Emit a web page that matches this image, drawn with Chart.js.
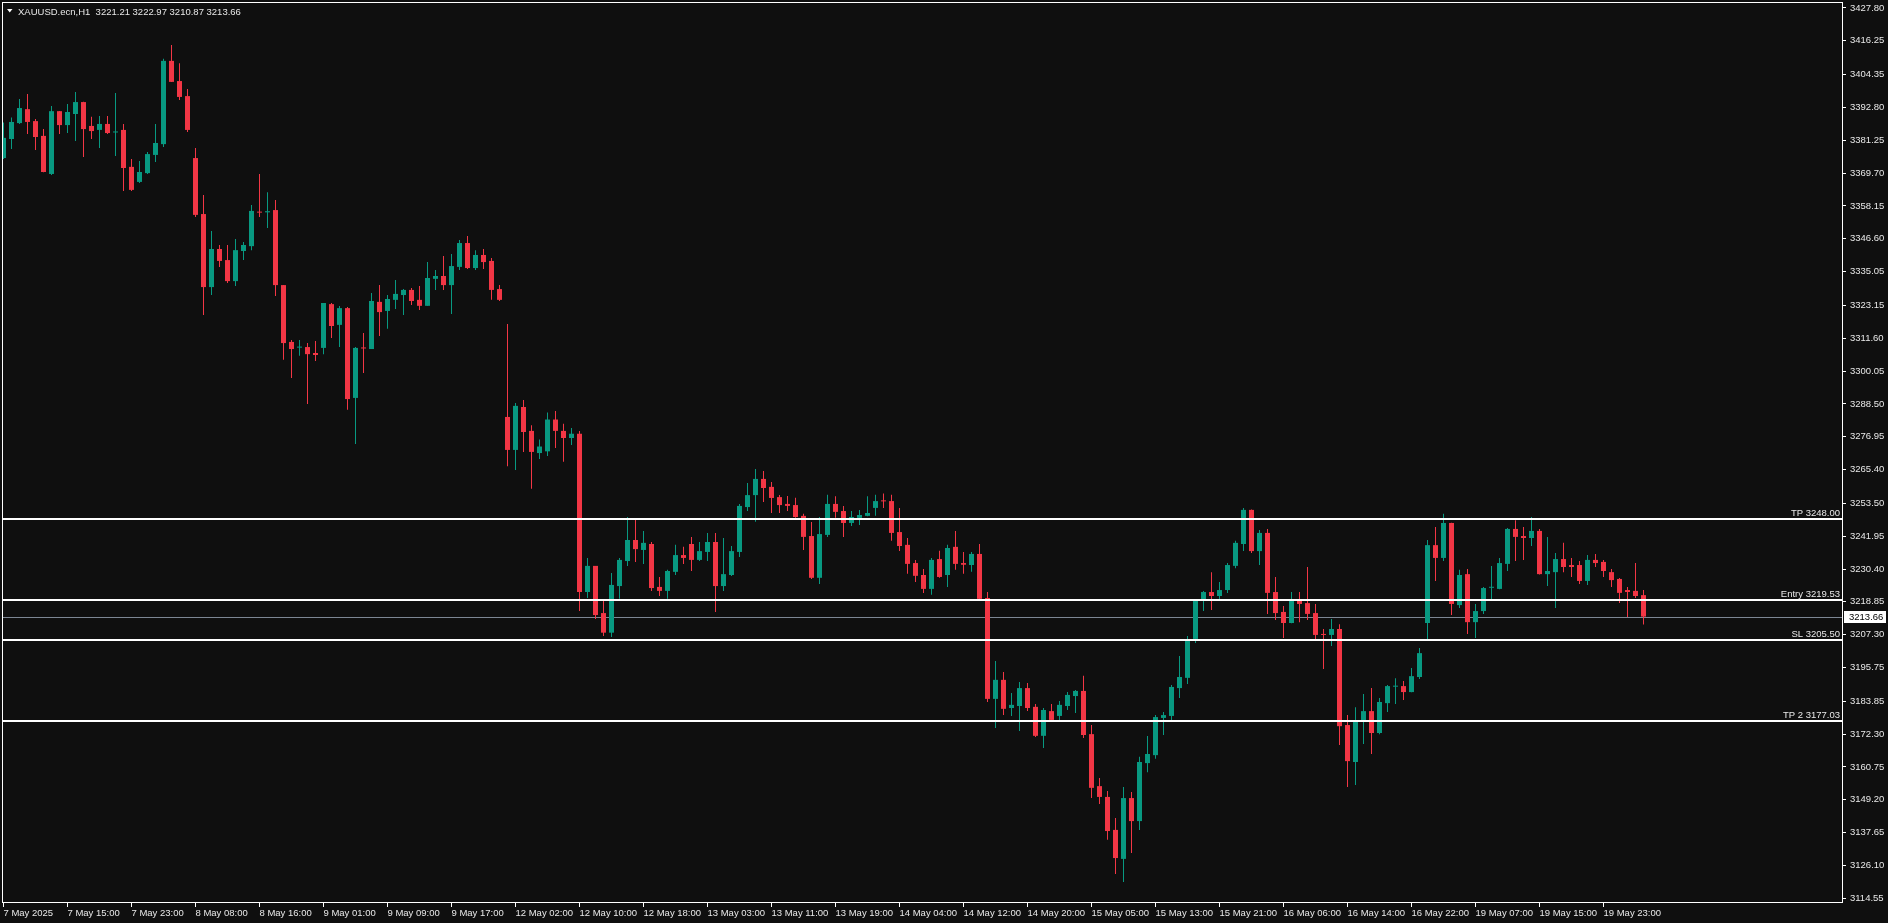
<!DOCTYPE html>
<html><head><meta charset="utf-8">
<script src="https://cdn.jsdelivr.net/npm/chart.js@4.4.1/dist/chart.umd.min.js"></script>
<style>html,body{margin:0;padding:0;background:#0f0f0f;overflow:hidden}canvas{display:block}</style>
</head><body>
<canvas id="c" width="1888" height="923"></canvas>
<script>
// ---- DATA (XAUUSD H1 candles) ----
const openP = [3375.0,3381.7,3387.3,3392.2,3388.0,3382.8,3369.4,3391.5,3386.6,3390.5,3394.7,3386.3,3384.9,3387.0,3384.0,3384.9,3371.9,3366.6,3369.7,3376.1,3379.9,3409.2,3402.1,3396.8,3375.0,3355.3,3329.6,3343.0,3339.1,3331.7,3342.3,3344.0,3356.0,3355.9,3356.7,3330.3,3310.3,3308.3,3308.5,3306.4,3308.2,3323.6,3316.3,3322.2,3290.6,3308.2,3307.8,3324.4,3321.2,3325.1,3326.8,3328.6,3325.1,3323.0,3332.5,3333.5,3330.3,3336.7,3345.1,3336.3,3340.9,3338.8,3328.9,3283.9,3272.3,3287.4,3279.0,3271.2,3271.8,3283.0,3279.0,3276.5,3278.0,3222.3,3231.5,3214.9,3208.0,3224.4,3233.2,3240.6,3237.1,3239.2,3224.1,3222.7,3229.4,3235.3,3239.2,3233.6,3236.4,3239.9,3224.4,3228.3,3236.4,3252.2,3256.4,3262.1,3259.3,3255.7,3253.3,3252.9,3249.1,3242.0,3227.3,3242.4,3253.3,3250.8,3246.6,3248.4,3249.1,3251.9,3254.5,3254.3,3243.4,3238.9,3232.5,3228.3,3223.4,3233.9,3228.3,3238.2,3232.5,3231.8,3235.7,3220.2,3184.7,3191.4,3181.5,3182.2,3188.5,3181.9,3171.7,3180.4,3178.7,3182.2,3185.7,3187.5,3172.3,3154.0,3150.2,3138.6,3128.4,3149.8,3141.7,3162.1,3164.9,3178.0,3178.7,3188.5,3192.1,3205.8,3219.85,3222.3,3220.9,3223.0,3231.5,3239.2,3251.2,3236.7,3243.1,3222.3,3215.3,3211.4,3219.5,3218.4,3214.9,3207.5,3207.2,3209.3,3175.5,3162.5,3176.9,3180.4,3172.7,3183.2,3189.0,3189.2,3187.1,3192.4,3211.4,3238.8,3234.3,3246.6,3217.7,3228.6,3211.7,3215.6,3223.8,3223.4,3232.2,3244.5,3242.0,3241.3,3243.8,3228.6,3229.3,3233.9,3231.8,3231.8,3226.2,3233.6,3232.9,3229.3,3226.9,3223.0,3222.7,3221.21];
const highP = [3387.5,3389.3,3395.8,3397.5,3388.7,3385.2,3393.3,3391.6,3394.0,3398.2,3394.8,3389.5,3389.8,3389.8,3397.9,3387.0,3374.7,3374.0,3377.1,3387.0,3409.9,3414.8,3408.4,3399.3,3378.5,3362.0,3349.3,3344.4,3344.4,3346.5,3345.5,3358.5,3369.4,3363.0,3360.2,3330.3,3311.0,3311.0,3309.9,3310.6,3324.0,3324.0,3322.9,3322.6,3308.5,3313.4,3327.5,3330.3,3326.8,3332.1,3328.9,3329.3,3330.0,3338.4,3335.6,3340.5,3341.2,3346.2,3347.6,3342.6,3343.0,3339.8,3330.3,3316.6,3288.8,3289.9,3281.0,3276.0,3285.5,3286.0,3281.5,3280.0,3279.0,3234.3,3231.5,3219.2,3229.0,3234.3,3248.7,3247.7,3243.8,3239.9,3227.6,3230.1,3238.9,3238.2,3241.7,3239.9,3243.1,3243.1,3241.3,3238.5,3253.3,3260.7,3265.6,3264.9,3261.0,3256.4,3256.1,3255.5,3249.8,3246.9,3248.7,3256.5,3256.0,3252.6,3250.8,3251.2,3256.0,3256.5,3257.0,3256.5,3251.9,3241.3,3233.6,3230.4,3234.3,3236.8,3238.9,3243.8,3236.4,3236.4,3239.2,3222.3,3198.0,3194.2,3186.8,3190.6,3190.3,3182.9,3181.5,3182.9,3184.0,3187.1,3187.8,3192.8,3175.5,3156.9,3152.3,3142.8,3153.7,3151.9,3164.3,3171.6,3179.0,3180.1,3189.6,3199.8,3206.8,3219.5,3222.7,3229.3,3225.8,3232.5,3240.3,3251.9,3251.3,3244.1,3244.5,3227.6,3217.4,3222.3,3222.3,3231.1,3218.1,3209.3,3212.8,3211.0,3179.0,3181.8,3186.4,3188.5,3185.0,3189.6,3192.0,3191.0,3195.6,3202.6,3240.6,3245.2,3249.8,3246.7,3230.1,3230.4,3218.1,3224.1,3231.5,3234.3,3244.8,3247.6,3245.2,3248.7,3244.5,3241.7,3236.0,3239.6,3234.3,3233.2,3235.3,3235.7,3233.6,3230.4,3227.2,3224.1,3232.5,3222.97];
const lowP = [3374.7,3378.2,3387.0,3383.5,3377.8,3370.0,3369.0,3383.5,3383.8,3381.0,3375.4,3381.7,3378.5,3383.5,3375.7,3363.4,3363.4,3366.2,3369.4,3373.6,3378.9,3401.8,3395.4,3384.2,3354.3,3319.8,3326.8,3336.7,3331.0,3330.0,3339.1,3342.6,3354.3,3350.4,3326.5,3304.0,3297.6,3305.4,3288.5,3303.6,3306.0,3311.7,3308.5,3286.4,3274.4,3299.4,3307.8,3312.4,3314.9,3321.9,3319.8,3323.3,3321.5,3323.0,3328.6,3328.6,3320.1,3335.6,3336.0,3335.6,3336.0,3325.1,3324.7,3266.6,3265.2,3271.6,3258.6,3269.1,3270.2,3273.0,3268.1,3274.0,3215.6,3220.2,3212.8,3206.8,3206.5,3219.9,3231.5,3232.9,3232.2,3222.7,3220.9,3219.9,3228.3,3232.2,3229.7,3233.2,3233.2,3215.3,3222.7,3227.9,3234.6,3250.8,3247.0,3254.0,3250.1,3250.1,3250.8,3248.4,3237.1,3226.9,3225.1,3241.7,3248.4,3241.7,3245.5,3245.9,3249.0,3249.1,3251.9,3240.3,3236.7,3228.7,3225.8,3222.0,3221.3,3227.3,3224.1,3230.1,3228.7,3229.4,3219.8,3183.6,3174.5,3179.0,3178.7,3173.4,3180.4,3171.3,3167.4,3177.2,3177.3,3180.8,3179.7,3170.9,3149.8,3147.7,3135.1,3123.1,3120.3,3130.5,3138.6,3158.9,3163.6,3172.0,3177.3,3185.0,3189.9,3204.4,3215.6,3216.0,3219.85,3222.0,3230.7,3236.7,3236.0,3231.8,3214.6,3212.5,3206.1,3211.3,3211.7,3212.5,3205.8,3195.2,3203.3,3168.5,3153.7,3154.4,3168.8,3165.3,3172.3,3180.1,3182.9,3184.3,3187.0,3191.7,3205.8,3226.2,3233.2,3214.2,3216.7,3207.5,3206.1,3214.6,3219.85,3223.3,3229.7,3233.2,3233.6,3238.5,3228.5,3224.4,3216.7,3229.3,3227.6,3225.1,3224.8,3231.1,3227.6,3224.1,3218.4,3213.5,3220.2,3210.87];
const closeP = [3382.1,3387.7,3392.6,3387.7,3382.4,3370.1,3391.5,3386.6,3391.2,3394.7,3385.2,3384.5,3387.0,3383.8,3384.3,3371.5,3363.8,3370.1,3376.4,3380.3,3409.2,3401.8,3396.5,3384.9,3355.0,3329.6,3343.0,3338.8,3331.7,3342.6,3344.4,3356.4,3355.8,3356.3,3330.3,3309.9,3307.8,3308.5,3306.0,3305.7,3324.0,3315.9,3322.2,3290.2,3308.2,3308.0,3324.7,3320.8,3325.4,3327.2,3328.6,3324.7,3323.0,3332.8,3333.5,3330.3,3337.0,3345.1,3336.3,3340.9,3338.4,3328.6,3325.1,3272.3,3287.8,3278.6,3271.6,3273.5,3283.0,3279.0,3276.5,3278.0,3222.3,3231.5,3214.2,3208.0,3224.8,3233.6,3240.6,3237.4,3239.6,3223.7,3222.7,3229.7,3235.3,3234.3,3233.6,3236.7,3239.9,3224.4,3228.6,3236.7,3252.6,3256.4,3262.1,3258.9,3255.4,3252.9,3252.6,3248.7,3241.7,3227.3,3242.7,3253.3,3250.5,3246.6,3248.7,3249.4,3250.1,3254.3,3254.2,3243.1,3238.5,3232.2,3228.0,3223.4,3233.6,3227.6,3237.8,3232.2,3231.9,3235.7,3219.9,3184.7,3191.4,3181.2,3182.6,3188.5,3181.5,3171.7,3180.8,3177.3,3182.6,3186.1,3187.5,3172.0,3153.4,3150.2,3138.2,3128.7,3149.8,3141.7,3162.5,3165.3,3178.3,3179.0,3188.9,3192.4,3205.1,3219.2,3222.3,3220.9,3223.0,3231.8,3239.6,3251.2,3236.7,3243.1,3222.0,3214.9,3211.4,3219.5,3218.1,3214.6,3207.2,3207.2,3209.3,3175.1,3162.8,3176.9,3180.4,3172.7,3183.6,3189.2,3189.2,3187.1,3192.7,3200.8,3238.8,3234.3,3246.6,3218.1,3228.3,3211.7,3215.6,3223.7,3224.1,3232.5,3244.5,3241.7,3241.3,3243.8,3228.6,3229.7,3233.9,3231.1,3231.1,3226.2,3233.6,3232.5,3229.7,3226.5,3222.0,3222.3,3220.9,3213.66];
const xTickLabels = ["7 May 2025","7 May 15:00","7 May 23:00","8 May 08:00","8 May 16:00","9 May 01:00","9 May 09:00","9 May 17:00","12 May 02:00","12 May 10:00","12 May 18:00","13 May 03:00","13 May 11:00","13 May 19:00","14 May 04:00","14 May 12:00","14 May 20:00","15 May 05:00","15 May 13:00","15 May 21:00","16 May 06:00","16 May 14:00","16 May 22:00","19 May 07:00","19 May 15:00","19 May 23:00"];
const yTickValues = [3427.80,3416.25,3404.35,3392.80,3381.25,3369.70,3358.15,3346.60,3335.05,3323.15,3311.60,3300.05,3288.50,3276.95,3265.40,3253.50,3241.95,3230.40,3218.85,3207.30,3195.75,3183.85,3172.30,3160.75,3149.20,3137.65,3126.10,3114.55];
const levelValues = [3248.00, 3219.53, 3205.50, 3177.03];
const levelNames = ["TP", "Entry", "SL", "TP 2"];
const lastPrice = 3213.66;
const symbolTitle = "XAUUSD.ecn,H1";
const lastOHLC = [3221.21, 3222.97, 3210.87, 3213.66];

// ---- chart ----
const UP = '#089981', DOWN = '#f23645';
const FONT = '"Liberation Sans", Arial, sans-serif';
const idx = openP.map((_, i) => i);
const colors = idx.map(i => closeP[i] >= openP[i] ? UP : DOWN);
const wickData = idx.map(i => ({x: i, y: [lowP[i], highP[i]]}));
const bodyData = idx.map(i => ({x: i, y: [openP[i], closeP[i]]}));

const overlay = {
  id: 'overlay',
  beforeDatasetsDraw(chart) {
    const {ctx, chartArea: a, scales: {y}} = chart;
    const py = Math.round(y.getPixelForValue(lastPrice)) + 0.5;
    ctx.save();
    ctx.strokeStyle = '#7d8794'; ctx.lineWidth = 1;
    ctx.beginPath(); ctx.moveTo(a.left, py); ctx.lineTo(a.right, py); ctx.stroke();
    ctx.restore();
  },
  afterDatasetsDraw(chart) {
    const {ctx, chartArea: a, scales: {y}} = chart;
    ctx.save();
    ctx.font = '9.5px ' + FONT;
    levelValues.forEach((v, k) => {
      const py = Math.round(y.getPixelForValue(v));
      ctx.fillStyle = '#ffffff';
      ctx.fillRect(a.left, py - 1, a.right - a.left, 2);
      ctx.fillStyle = '#e8e8e8';
      ctx.textAlign = 'right'; ctx.textBaseline = 'alphabetic';
      ctx.fillText(levelNames[k] + ' ' + v.toFixed(2), a.right - 2, py - 3);
    });
    // frame
    ctx.strokeStyle = '#ffffff'; ctx.lineWidth = 1;
    ctx.strokeRect(a.left + 0.5, a.top + 0.5, a.right - a.left, a.bottom - a.top - 1);
    // current price box
    const py = Math.round(y.getPixelForValue(lastPrice));
    ctx.fillStyle = '#ffffff';
    ctx.fillRect(a.right + 2, py - 6, 42, 12);
    ctx.fillStyle = '#000000'; ctx.textAlign = 'left'; ctx.textBaseline = 'middle';
    ctx.fillText(lastPrice.toFixed(2), a.right + 7, py + 0.5);
    // title
    ctx.fillStyle = '#ffffff';
    ctx.beginPath(); ctx.moveTo(7, 9); ctx.lineTo(12.5, 9); ctx.lineTo(9.75, 12.5); ctx.closePath(); ctx.fill();
    ctx.fillStyle = '#e8e8e8'; ctx.textBaseline = 'alphabetic'; ctx.textAlign = 'left';
    ctx.fillText(symbolTitle + '  ' + lastOHLC.map(v => v.toFixed(2)).join(' '), 18, 14.5);
    ctx.restore();
  }
};

new Chart(document.getElementById('c'), {
  type: 'bar',
  data: {datasets: [
    {data: wickData, backgroundColor: colors, barThickness: 1, grouped: false, borderWidth: 0, inflateAmount: 0, minBarLength: 1, order: 2, clip: 0},
    {data: bodyData, backgroundColor: colors, barThickness: 5, grouped: false, borderWidth: 0, inflateAmount: 0, minBarLength: 1, order: 1, clip: 0}
  ]},
  options: {
    responsive: false, animation: false, events: [],
    layout: {padding: {left: 2, top: 2, right: 0, bottom: 0}},
    plugins: {legend: {display: false}, tooltip: {enabled: false}},
    scales: {
      x: {
        type: 'linear', min: -0.1875, max: 229.8125, offset: false,
        grid: {display: true, drawOnChartArea: false, drawTicks: true, tickLength: 4, color: '#ffffff', offset: false},
        border: {display: false},
        afterBuildTicks: s => { s.ticks = xTickLabels.map((_, k) => ({value: k * 8})); },
        afterFit: s => { s.height = 20; s.paddingLeft = 0; s.paddingRight = 0; },
        ticks: {autoSkip: false, maxRotation: 0, minRotation: 0, align: 'start', padding: 1, color: '#e8e8e8',
                font: {family: FONT, size: 9.5}, callback: v => xTickLabels[Math.round(v / 8)] ?? ''}
      },
      y: {
        type: 'linear', position: 'right', min: 3112.88, max: 3429.91, beginAtZero: false,
        grid: {display: true, drawOnChartArea: false, drawTicks: true, tickLength: 4, color: '#ffffff'},
        border: {display: false},
        afterBuildTicks: s => { s.ticks = yTickValues.map(v => ({value: v})); },
        afterFit: s => { s.width = 46; s.paddingTop = 0; s.paddingBottom = 0; },
        ticks: {padding: 4, color: '#e8e8e8', font: {family: FONT, size: 9.5}, callback: v => Number(v).toFixed(2)}
      }
    }
  },
  plugins: [overlay]
});
</script>
</body></html>
